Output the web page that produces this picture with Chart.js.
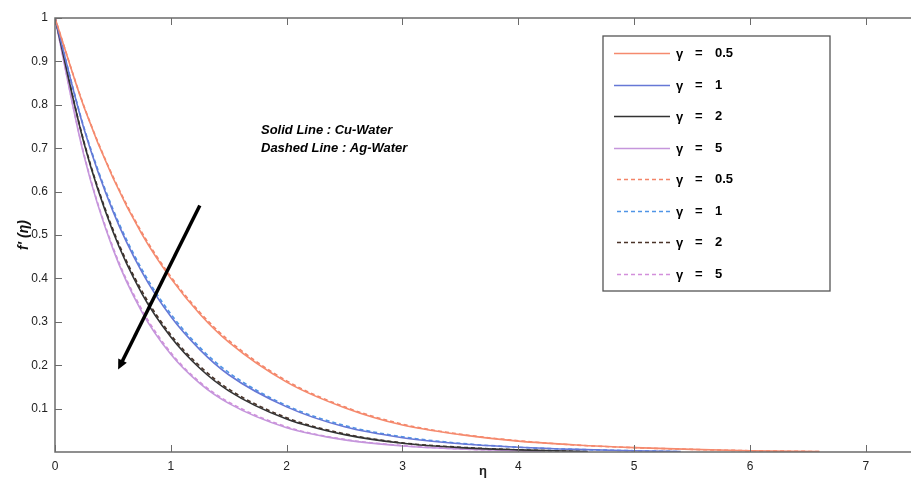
<!DOCTYPE html>
<html>
<head>
<meta charset="utf-8">
<script src="https://cdn.jsdelivr.net/npm/chart.js@4/dist/chart.umd.min.js"></script>
<style>
  body { margin: 0; background: #fff; }
  #wrap { width: 911px; height: 484px; position: relative; }
</style>
</head>
<body>
<div id="wrap"><canvas id="velocityChart"></canvas></div>
<script>
// data: eta positions and f'(eta) values
const etaOrange = [0, 0.25, 0.5, 0.75, 1, 1.25, 1.5, 2, 2.5, 3, 3.5, 4, 4.5, 5, 5.5, 6, 6.6];
const cuGamma05 = [1, 0.795, 0.632, 0.502, 0.400, 0.318, 0.253, 0.161, 0.102, 0.062, 0.040, 0.025, 0.016, 0.010, 0.006, 0.003, 0.001];
const agGamma05 = [1, 0.797, 0.635, 0.506, 0.404, 0.322, 0.257, 0.164, 0.104, 0.064, 0.041, 0.026, 0.016, 0.010, 0.006, 0.003, 0.001];

const etaBlue = [0, 0.25, 0.5, 0.75, 1, 1.25, 1.5, 2, 2.5, 3, 3.5, 4, 4.5, 5, 5.4];
const cuGamma1 = [1, 0.745, 0.555, 0.415, 0.312, 0.236, 0.178, 0.104, 0.058, 0.033, 0.019, 0.011, 0.006, 0.003, 0.001];
const agGamma1 = [1, 0.748, 0.560, 0.421, 0.318, 0.241, 0.183, 0.107, 0.061, 0.035, 0.020, 0.011, 0.006, 0.003, 0.001];

const etaBlack = [0, 0.25, 0.5, 0.75, 1, 1.25, 1.5, 2, 2.5, 3, 3.5, 4, 4.6];
const cuGamma2 = [1, 0.712, 0.508, 0.365, 0.265, 0.193, 0.141, 0.076, 0.040, 0.020, 0.010, 0.005, 0.001];
const agGamma2 = [1, 0.715, 0.513, 0.371, 0.270, 0.198, 0.145, 0.079, 0.042, 0.021, 0.011, 0.005, 0.001];

const etaPurple = [0, 0.25, 0.5, 0.75, 1, 1.25, 1.5, 2, 2.5, 3, 3.5, 4, 4.2];
const cuGamma5 = [1, 0.683, 0.468, 0.323, 0.225, 0.158, 0.112, 0.056, 0.028, 0.014, 0.007, 0.003, 0.001];
const agGamma5 = [1, 0.686, 0.472, 0.328, 0.229, 0.161, 0.115, 0.058, 0.029, 0.015, 0.007, 0.003, 0.001];

const xTicks = [0, 1, 2, 3, 4, 5, 6, 7];
const yTicks = [0.1, 0.2, 0.3, 0.4, 0.5, 0.6, 0.7, 0.8, 0.9, 1];
const legendLabels = ['0.5', '1', '2', '5', '0.5', '1', '2', '5'];

function pts(xs, ys) {
    return xs.map((x, i) => ({ x: x, y: ys[i] }));
}

function series(label, xs, ys, color, dashed) {
    return {
        label: label,
        data: pts(xs, ys),
        borderColor: color,
        borderWidth: 1.6,
        borderDash: dashed ? [4, 3] : [],
        pointRadius: 0,
        fill: false,
        cubicInterpolationMode: 'monotone'
    };
}

const datasets = [
    series('γ = 0.5', etaOrange, cuGamma05, '#f58a6e', false),
    series('γ = 1', etaBlue, cuGamma1, '#6678d6', false),
    series('γ = 2', etaBlack, cuGamma2, '#333333', false),
    series('γ = 5', etaPurple, cuGamma5, '#c596dc', false),
    series('γ = 0.5', etaOrange, agGamma05, '#f38468', true),
    series('γ = 1', etaBlue, agGamma1, '#4f95e6', true),
    series('γ = 2', etaBlack, agGamma2, '#4a3328', true),
    series('γ = 5', etaPurple, agGamma5, '#d38fdb', true)
];

// frame with inward MATLAB style ticks, legend box, note and arrow
const decorPlugin = {
    id: 'decor',
    afterDraw(chart) {
        const ctx = chart.ctx;
        const a = chart.chartArea;
        const xs = chart.scales.x;
        const ys = chart.scales.y;
        ctx.save();

        // frame (no right edge, it is cut off in the picture)
        ctx.strokeStyle = '#6b6b6b';
        ctx.lineWidth = 1.5;
        ctx.beginPath();
        ctx.moveTo(a.right, a.top);
        ctx.lineTo(a.left, a.top);
        ctx.lineTo(a.left, a.bottom);
        ctx.lineTo(a.right, a.bottom);
        ctx.stroke();

        ctx.lineWidth = 1;
        ctx.beginPath();
        xTicks.forEach(t => {
            const px = Math.round(xs.getPixelForValue(t)) + 0.5;
            ctx.moveTo(px, a.bottom);
            ctx.lineTo(px, a.bottom - 7);
            ctx.moveTo(px, a.top);
            ctx.lineTo(px, a.top + 7);
        });
        yTicks.forEach(t => {
            const py = Math.round(ys.getPixelForValue(t)) + 0.5;
            ctx.moveTo(a.left, py);
            ctx.lineTo(a.left + 7, py);
        });
        ctx.stroke();

        // note text
        ctx.fillStyle = '#000';
        ctx.font = 'italic bold 13px "Liberation Sans", Arial, sans-serif';
        ctx.textAlign = 'left';
        ctx.textBaseline = 'middle';
        ctx.fillText('Solid Line : Cu-Water', 261, 130);
        ctx.fillText('Dashed Line : Ag-Water', 261, 148);

        // arrow
        const x1 = xs.getPixelForValue(1.25), y1 = ys.getPixelForValue(0.568);
        const x2 = xs.getPixelForValue(0.545), y2 = ys.getPixelForValue(0.19);
        const ang = Math.atan2(y2 - y1, x2 - x1);
        ctx.strokeStyle = '#000';
        ctx.lineWidth = 3.5;
        ctx.beginPath();
        ctx.moveTo(x1, y1);
        ctx.lineTo(x2 - 6 * Math.cos(ang), y2 - 6 * Math.sin(ang));
        ctx.stroke();
        ctx.beginPath();
        ctx.moveTo(x2, y2);
        ctx.lineTo(x2 - 11 * Math.cos(ang - 0.45), y2 - 11 * Math.sin(ang - 0.45));
        ctx.lineTo(x2 - 11 * Math.cos(ang + 0.45), y2 - 11 * Math.sin(ang + 0.45));
        ctx.closePath();
        ctx.fill();

        // legend box
        const bx = 603, by = 36, bw = 227, bh = 255;
        ctx.fillStyle = '#fff';
        ctx.fillRect(bx, by, bw, bh);
        ctx.strokeStyle = '#555';
        ctx.lineWidth = 1.3;
        ctx.strokeRect(bx, by, bw, bh);
        ctx.font = 'bold 13px "Liberation Sans", Arial, sans-serif';
        chart.data.datasets.forEach((ds, i) => {
            const ry = Math.round(by + 17 + i * 31.5) + 0.5;
            ctx.strokeStyle = ds.borderColor;
            ctx.lineWidth = 1.4;
            ctx.setLineDash(ds.borderDash);
            ctx.beginPath();
            ctx.moveTo(ds.borderDash.length ? 617 : 614, ry);
            ctx.lineTo(670, ry);
            ctx.stroke();
            ctx.setLineDash([]);
            ctx.fillStyle = '#000';
            ctx.fillText('γ', 676, ry + 1);
            ctx.fillText('=', 695, ry);
            ctx.fillText(legendLabels[i], 715, ry);
        });
        ctx.restore();
    }
};

const ctx = document.getElementById('velocityChart').getContext('2d');
new Chart(ctx, {
    type: 'line',
    data: { datasets: datasets },
    options: {
        responsive: true,
        maintainAspectRatio: false,
        animation: false,
        layout: { padding: { top: 18, right: 0, left: 16, bottom: 5 } },
        plugins: {
            legend: { display: false },
            tooltip: { enabled: false }
        },
        scales: {
            x: {
                type: 'linear',
                min: 0,
                max: 7.39,
                grid: { display: false, drawTicks: false },
                border: { display: false },
                afterFit: (s) => { s.height = 27; },
                ticks: {
                    stepSize: 1,
                    includeBounds: false,
                    padding: 7,
                    color: '#222',
                    font: { family: '"Liberation Sans", Arial, sans-serif', size: 12 },
                    maxRotation: 0
                },
                title: {
                    display: true,
                    text: 'η',
                    color: '#222',
                    font: { family: '"Liberation Sans", Arial, sans-serif', size: 13, weight: 'bold' },
                    padding: { top: 0, bottom: 0 }
                }
            },
            y: {
                min: 0,
                max: 1,
                grid: { display: false, drawTicks: false },
                border: { display: false },
                afterFit: (s) => { s.width = 39; },
                ticks: {
                    stepSize: 0.1,
                    padding: 7,
                    color: '#222',
                    font: { family: '"Liberation Sans", Arial, sans-serif', size: 12 },
                    callback: (v) => {
                        const r = Math.round(v * 10) / 10;
                        if (r === 0) return '';
                        return r === 1 ? '1' : r.toFixed(1);
                    }
                },
                title: {
                    display: true,
                    text: "f' (η)",
                    color: '#111',
                    font: { family: '"Liberation Sans", Arial, sans-serif', size: 14, weight: 'bold', style: 'italic' },
                    padding: { top: 0, bottom: 0 }
                }
            }
        }
    },
    plugins: [decorPlugin]
});
</script>
</body>
</html>
